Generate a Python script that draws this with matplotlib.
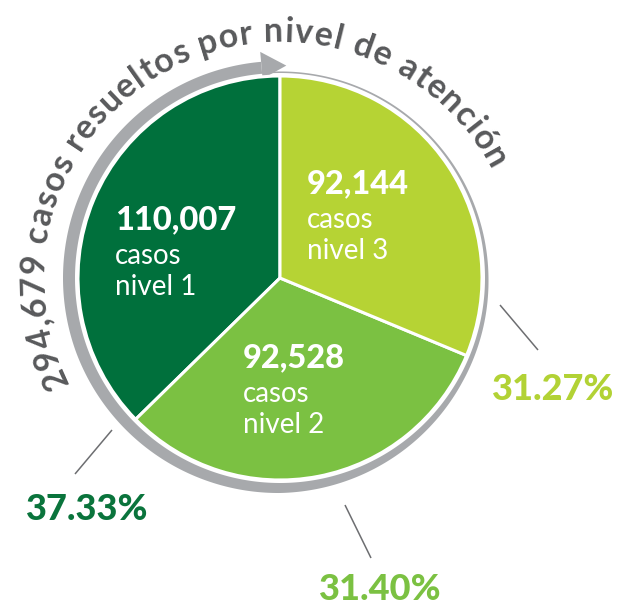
import numpy as np
import matplotlib
matplotlib.use("Agg")
import matplotlib.pyplot as plt
from matplotlib.font_manager import FontProperties
from matplotlib.textpath import TextToPath

# ── Data ───────────────────────────────────────────────────────
niveles = ["nivel 1", "nivel 2", "nivel 3"]
casos = [110007, 92528, 92144]

# ── Style ──────────────────────────────────────────────────────
colors = ["#00703c", "#7bc142", "#b6d334"]
pct_colors = ["#0a743c", "#7bc142", "#b2d235"]
grey_txt = "#58595b"
grey_ring = "#a7a9ac"
W, H = 620, 607
font = "Lato"


def Y(y):
    # pixel row (top-down) -> data y (bottom-up)
    return H - y


cx, cy = 280, Y(278)
R = 202

fig = plt.figure(figsize=(W / 100, H / 100), dpi=100)
ax = fig.add_axes([0, 0, 1, 1])

# ── Grey ring + arrow ──────────────────────────────────────────
th_deg = np.linspace(95, 455, 600)
th_k = [95, 200, 270, 330, 360, 400, 455]
t_k = [12, 12, 10, 5, 3.5, 2, 1.5]
thick = np.interp(th_deg, th_k, t_k)
r_in = 205
th = np.radians(th_deg)
xo = cx + (r_in + thick) * np.cos(th)
yo = cy + (r_in + thick) * np.sin(th)
xi = cx + r_in * np.cos(th[::-1])
yi = cy + r_in * np.sin(th[::-1])
ax.fill(np.r_[xo, xi], np.r_[yo, yi], color=grey_ring, lw=0, zorder=0.5)

a_base, a_tip = np.radians(95), np.radians(88.3)
head = [
    (cx + 200 * np.cos(a_base), cy + 200 * np.sin(a_base)),
    (cx + 227 * np.cos(a_base), cy + 227 * np.sin(a_base)),
    (cx + 212.5 * np.cos(a_tip), cy + 212.5 * np.sin(a_tip)),
]
ax.fill(*zip(*head), color=grey_ring, lw=0, zorder=0.5)

# ── Pie ────────────────────────────────────────────────────────
wedges, _ = ax.pie(casos, colors=colors, startangle=90, counterclock=True,
                   center=(cx, cy), radius=R,
                   wedgeprops=dict(edgecolor="white", linewidth=2.2))
for w in wedges:
    w.set_zorder(1)

ax.set_xlim(0, W)
ax.set_ylim(0, H)
ax.set_aspect("equal")
ax.set_axis_off()

# ── Labels inside slices ──────────────────────────────────────
label_pos = [(115, 229), (243, 367), (307, 193)]
for (x, yb), v, n in zip(label_pos, casos, niveles):
    ax.text(x, Y(yb), f"{v:,}", color="white", fontsize=23.5, fontweight="black",
            family=font, ha="left", va="baseline", zorder=5)
    ax.text(x, Y(yb + 35), "casos", color="white", fontsize=20,
            family=font, ha="left", va="baseline", zorder=5)
    ax.text(x, Y(yb + 66), n, color="white", fontsize=20,
            family=font, ha="left", va="baseline", zorder=5)

# ── Percentages + leader lines ────────────────────────────────
total = sum(casos)
pct_pos = [(87, 520), (380, 600), (553, 400)]
leaders = [((112, 430), (75, 474)), ((345, 505), (371, 558)),
           ((500, 305), (538, 350))]
for (x, yb), v, c, (p0, p1) in zip(pct_pos, casos, pct_colors, leaders):
    ax.text(x, Y(yb), f"{100 * v / total:.2f}%", color=c, fontsize=26,
            fontweight="black", family=font, ha="center", va="baseline")
    ax.plot([p0[0], p1[0]], [Y(p0[1]), Y(p1[1])], color="#6d6e71", lw=1.1,
            solid_capstyle="butt")

# ── Curved title ───────────────────────────────────────────────
title = f"{total:,} casos resueltos por nivel de atención"
fs = 24.5
prop = FontProperties(family=font, weight="bold", size=fs)
ttp = TextToPath()


def width_px(s):
    if not s:
        return 0.0
    w, _, _ = ttp.get_text_width_height_descent(s, prop, ismath=False)
    return w * 100 / 72


rb = 236
a0, a1 = np.radians(206.5), np.radians(27)
arc_len = (a0 - a1) * rb
nat = width_px(title)
extra = (arc_len - nat) / (len(title) - 1)
for i, ch in enumerate(title):
    if ch == " ":
        continue
    s = width_px(title[:i]) + width_px(ch) / 2 + i * extra
    ang = a0 - s / rb
    ax.text(cx + rb * np.cos(ang), cy + rb * np.sin(ang), ch,
            fontproperties=prop, color=grey_txt,
            rotation=np.degrees(ang) - 90, rotation_mode="anchor",
            ha="center", va="baseline")

fig.savefig("out.png", dpi=100)
